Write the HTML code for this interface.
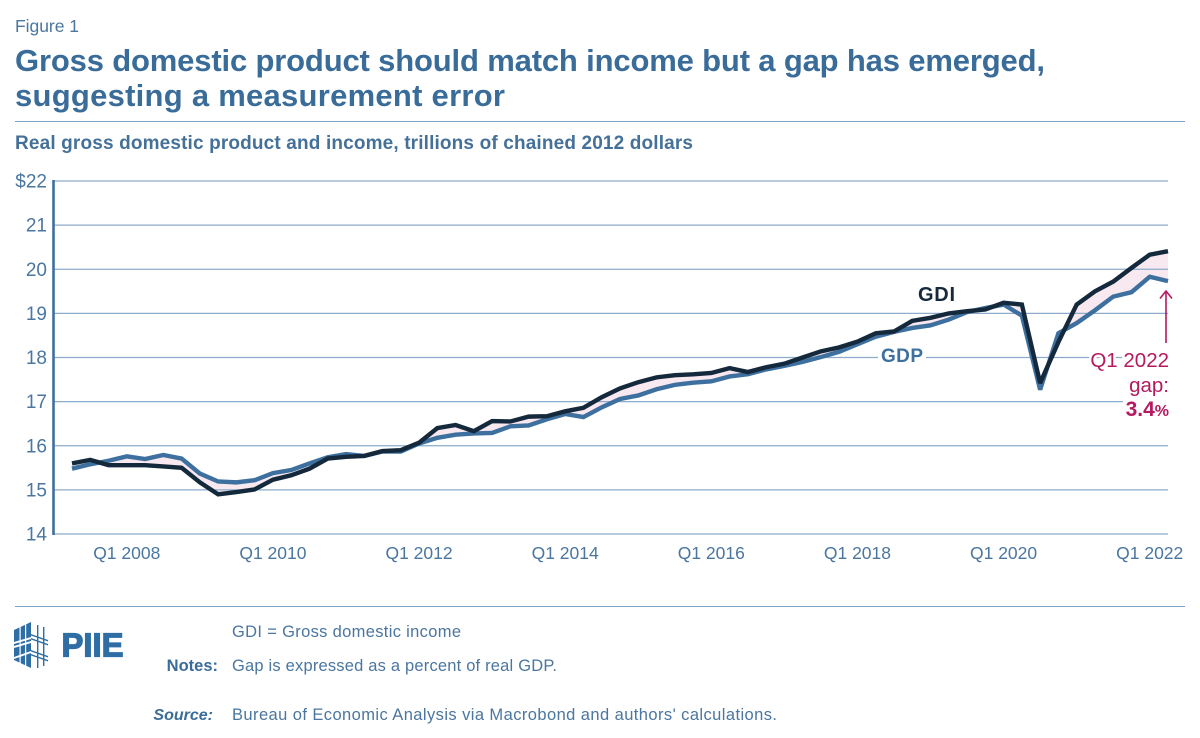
<!DOCTYPE html>
<html lang="en">
<head>
<meta charset="utf-8">
<title>Figure 1: Gross domestic product and income</title>
<style>
html,body{margin:0;padding:0;background:#fff;width:1200px;height:738px;overflow:hidden}
svg{display:block;font-family:"Liberation Sans",sans-serif}
.halo{paint-order:stroke;stroke:#fff;stroke-width:5px;stroke-linejoin:round}
</style>
</head>
<body>
<svg id="chart" width="1200" height="738" viewBox="0 0 1200 738" xmlns="http://www.w3.org/2000/svg">
  <rect width="1200" height="738" fill="#fff"/>
  <text x="15" y="32" font-size="17.500" fill="#4a769f" textLength="64" lengthAdjust="spacing">Figure 1</text>
  <text x="15" y="71" font-size="31" font-weight="700" fill="#3a6c9a" textLength="1030" lengthAdjust="spacing">Gross domestic product should match income but a gap has emerged,</text>
  <text x="15" y="106" font-size="31" font-weight="700" fill="#3a6c9a" textLength="490" lengthAdjust="spacing">suggesting a measurement error</text>
  <rect x="15" y="121" width="1170" height="1" fill="#7fa3c7"/>
  <text x="15" y="149" font-size="19" font-weight="700" fill="#457199" textLength="678" lengthAdjust="spacing">Real gross domestic product and income, trillions of chained 2012 dollars</text>

  <g id="band"></g>
  <g id="grid"></g>
  <g id="yticks"></g>
  <g id="xticks"></g>
  <g id="marks"></g>

  <rect x="878" y="345" width="48" height="22" fill="#fff"/>
  <text x="881" y="362" font-size="19" font-weight="700" fill="#3d709f" textLength="42" lengthAdjust="spacing">GDP</text>
  <text x="918" y="301" font-size="20" font-weight="700" fill="#15293d" textLength="37" lengthAdjust="spacing">GDI</text>

  <rect x="1123" y="398" width="47" height="6" fill="#fff"/>
  <line x1="1166" y1="343" x2="1166" y2="292" stroke="#b5195f" stroke-width="1.6"/>
  <path d="M1160 298.500 L1166 291 L1172 298.500" fill="none" stroke="#b5195f" stroke-width="1.6"/>
  <text class="halo" x="1169" y="367" font-size="20.500" text-anchor="end" fill="#b5195f">Q1 2022</text>
  <text class="halo" x="1169" y="392" font-size="20.500" text-anchor="end" fill="#b5195f">gap:</text>
  <text x="1169" y="416" font-size="21" font-weight="700" text-anchor="end" fill="#b5195f">3.4<tspan font-size="16">%</tspan></text>

  <rect x="15" y="606" width="1170" height="1" fill="#7fa3c7"/>

  <g>
    <g>
      <polygon points="14,630 31,622 31,668 14,660" fill="#2f6ea5"/>
      <rect x="19.500" y="624" width="1.200" height="42" fill="#fff"/>
      <rect x="25" y="622" width="1.200" height="46" fill="#fff"/>
      <polygon points="14,642 31,637 31,639 14,644" fill="#fff"/>
      <polygon points="14,646 31,641 31,643 14,648" fill="#fff"/>
      <polygon points="14,657 31,651 31,653 14,659" fill="#fff"/>
      <rect x="37" y="625" width="1.400" height="43" fill="#2f6ea5"/>
      <rect x="43" y="627" width="1.400" height="39" fill="#2f6ea5"/>
      <polygon points="31,634 48,640 48,641.500 31,635.500" fill="#2f6ea5"/>
      <polygon points="31,638 48,644 48,645.500 31,639.500" fill="#2f6ea5"/>
      <polygon points="31,650 48,656 48,657.500 31,651.500" fill="#2f6ea5"/>
      <polygon points="31,654 48,660 48,661.500 31,655.500" fill="#2f6ea5"/>
    </g>
    <text x="61.500" y="656.500" font-size="33" font-weight="700" fill="#2f6ea5" stroke="#2f6ea5" stroke-width="1.300" textLength="62" lengthAdjust="spacingAndGlyphs">PIIE</text>
  </g>

  <text x="232" y="637" font-size="16.500" fill="#4a769f" textLength="229" lengthAdjust="spacing">GDI = Gross domestic income</text>
  <text x="218" y="671" font-size="16.500" font-weight="700" text-anchor="end" fill="#3a6c9a">Notes:</text>
  <text x="232" y="671" font-size="16.500" fill="#4a769f" textLength="325" lengthAdjust="spacing">Gap is expressed as a percent of real GDP.</text>
  <text x="213" y="720" font-size="16" font-weight="700" font-style="italic" text-anchor="end" fill="#3a6c9a">Source:</text>
  <text x="232" y="720" font-size="16.500" fill="#4a769f" textLength="545" lengthAdjust="spacing">Bureau of Economic Analysis via Macrobond and authors' calculations.</text>
</svg>

<script>
const gdiValues = [
  15.60, 15.68, 15.56, 15.56,
  15.56, 15.53, 15.50, 15.17,
  14.90, 14.95, 15.01, 15.23,
  15.33, 15.48, 15.71, 15.75,
  15.77, 15.88, 15.90, 16.07,
  16.40, 16.47, 16.33, 16.56,
  16.55, 16.66, 16.67, 16.78,
  16.86, 17.10, 17.30, 17.44,
  17.55, 17.60, 17.62, 17.65,
  17.76, 17.67, 17.78, 17.86,
  18.00, 18.14, 18.23, 18.36,
  18.55, 18.59, 18.83, 18.90,
  19.00, 19.05, 19.09, 19.24,
  19.20, 17.42, 18.35, 19.20,
  19.50, 19.72, 20.03, 20.33,
  20.41
];
const gdpValues = [
  15.48, 15.58, 15.66, 15.76,
  15.70, 15.79, 15.71, 15.37,
  15.19, 15.17, 15.22, 15.38,
  15.45, 15.60, 15.74, 15.81,
  15.77, 15.87, 15.87, 16.05,
  16.18, 16.25, 16.28, 16.29,
  16.44, 16.46, 16.60, 16.72,
  16.65, 16.87, 17.06, 17.14,
  17.28, 17.38, 17.43, 17.46,
  17.57, 17.62, 17.73, 17.81,
  17.90, 18.01, 18.13, 18.30,
  18.47, 18.58, 18.67, 18.73,
  18.86, 19.03, 19.12, 19.20,
  18.95, 17.27, 18.55, 18.78,
  19.07, 19.38, 19.48, 19.83,
  19.73
];
const yTicks = [14, 15, 16, 17, 18, 19, 20, 21, 22];
const xTickLabels = ["Q1 2008", "Q1 2010", "Q1 2012", "Q1 2014", "Q1 2016", "Q1 2018", "Q1 2020", "Q1 2022"];
const xTickQuarterIndex = [4, 12, 20, 28, 36, 44, 52, 60];

const NS = "http://www.w3.org/2000/svg";
const plotLeft = 72, plotRight = 1168, plotTop = 181, plotBottom = 534;
const lastIndex = gdpValues.length - 1;
function xScale(i) { return plotLeft + (plotRight - plotLeft) * i / lastIndex; }
function yScale(v) { return plotBottom - (plotBottom - plotTop) * (v - 14) / 8; }
function make(tag, attrs) {
  const el = document.createElementNS(NS, tag);
  for (const k in attrs) el.setAttribute(k, attrs[k]);
  return el;
}
const band = document.getElementById("band");
const grid = document.getElementById("grid");
const yGroup = document.getElementById("yticks");
const xGroup = document.getElementById("xticks");
const marks = document.getElementById("marks");

function pointsOf(values) {
  return values.map(function (v, i) { return xScale(i).toFixed(2) + "," + yScale(v).toFixed(2); });
}
const gapBand = make("polygon", {
  points: pointsOf(gdiValues).concat(pointsOf(gdpValues).reverse()).join(" "),
  fill: "#f8e8ef"
});


band.appendChild(gapBand);

yTicks.forEach(function (t) {
  const line = make("line", { x1: 53, x2: plotRight, y1: yScale(t), y2: yScale(t), stroke: "#8dabca", "stroke-width": 1.3 });
  
  
  grid.appendChild(line);
  const label = make("text", { x: 47, y: yScale(t) + 6.5, "text-anchor": "end", "font-size": 19, fill: "#4a769f" });
  
  
  label.textContent = t === 22 ? "$" + t : String(t);
  yGroup.appendChild(label);
});

const axis = make("line", { x1: 53.5, x2: 53.5, y1: plotTop - 1, y2: plotBottom + 1, stroke: "#3d709f", "stroke-width": 2.6 });


grid.appendChild(axis);

xTickLabels.forEach(function (txt, n) {
  const label = make("text", { x: xScale(xTickQuarterIndex[n]) - 18.3, y: 559, "text-anchor": "middle", "font-size": 17.5, fill: "#4a769f" });
  
  
  label.textContent = txt;
  xGroup.appendChild(label);
});

const gdpLine = make("polyline", {
  points: pointsOf(gdpValues).join(" "), fill: "none", stroke: "#3d709f",
  "stroke-width": 4.4, "stroke-linejoin": "miter", "stroke-miterlimit": 3
});


marks.appendChild(gdpLine);

const gdiLine = make("polyline", {
  points: pointsOf(gdiValues).join(" "), fill: "none", stroke: "#15293d",
  "stroke-width": 4.4, "stroke-linejoin": "miter", "stroke-miterlimit": 3
});


marks.appendChild(gdiLine);
</script>
</body>
</html>
